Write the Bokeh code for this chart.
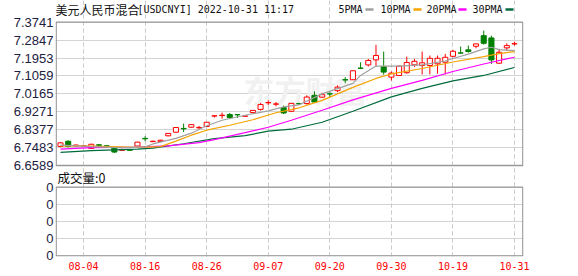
from bokeh.plotting import figure
from bokeh.models import Range1d, FixedTicker, CustomJSTickFormatter, ColumnDataSource, Grid
from bokeh.core.properties import value
from bokeh.embed import file_html
from bokeh.resources import INLINE

# ---------------- data ----------------
title_cn = "美元人民币混合"
title_code = "[USDCNYI] 2022-10-31 11:17"
volume_title = "成交量:0"

dates = ["08-01", "08-02", "08-03", "08-04", "08-05", "08-08", "08-09", "08-10", "08-11", "08-12",
         "08-15", "08-16", "08-17", "08-18", "08-19", "08-22", "08-23", "08-24", "08-25", "08-26",
         "08-29", "08-30", "08-31", "09-01", "09-02", "09-05", "09-06", "09-07", "09-08", "09-09",
         "09-13", "09-14", "09-15", "09-16", "09-19", "09-20", "09-21", "09-22", "09-23", "09-26",
         "09-27", "09-28", "09-29", "09-30", "10-10", "10-11", "10-12", "10-13", "10-14", "10-17",
         "10-18", "10-19", "10-20", "10-21", "10-24", "10-25", "10-26", "10-27", "10-28", "10-31"]

opens = [6.7541, 6.7800, 6.7560, 6.7560, 6.7440, 6.7620, 6.7570, 6.7457, 6.7350, 6.7370,
         6.7560, 6.7940, 6.7780, 6.7790, 6.8070, 6.8250, 6.8440, 6.8500, 6.8470, 6.8534,
         6.9060, 6.9080, 6.9130, 6.9130, 6.9050, 6.9230, 6.9390, 6.9720, 6.9650, 6.9480,
         6.9295, 6.9680, 6.9680, 7.0090, 7.0000, 7.0170, 7.0323, 7.0870, 7.0870, 7.1450,
         7.1610, 7.1860, 7.1530, 7.1000, 7.1080, 7.1220, 7.1615, 7.1580, 7.1580, 7.1664,
         7.1744, 7.2040, 7.2210, 7.2360, 7.2540, 7.3070, 7.2956, 7.1694, 7.2460, 7.2658]
highs = [6.7760, 6.7850, 6.7630, 6.7590, 6.7670, 6.7660, 6.7590, 6.7490, 6.7380, 6.7390,
         6.7770, 6.8050, 6.7830, 6.7870, 6.8210, 6.8500, 6.8680, 6.8660, 6.8560, 6.8760,
         6.9070, 6.9230, 6.9210, 6.9130, 6.9070, 6.9360, 6.9710, 6.9840, 6.9760, 6.9580,
         6.9710, 6.9720, 7.0090, 7.0290, 7.0220, 7.0250, 7.0590, 7.1000, 7.1330, 7.1740,
         7.1910, 7.2610, 7.2275, 7.1280, 7.1580, 7.2027, 7.1910, 7.2275, 7.2077, 7.2077,
         7.2160, 7.2360, 7.2524, 7.2573, 7.2668, 7.3320, 7.3070, 7.2410, 7.2688, 7.2772]
lows = [6.7500, 6.7490, 6.7540, 6.7530, 6.7420, 6.7560, 6.7540, 6.7210, 6.7330, 6.7330,
        6.7550, 6.7800, 6.7760, 6.7770, 6.8050, 6.8240, 6.8260, 6.8480, 6.8400, 6.8520,
        6.8980, 6.8930, 6.8910, 6.8960, 6.9040, 6.9210, 6.9330, 6.9610, 6.9540, 6.9160,
        6.9280, 6.9630, 6.9630, 6.9710, 6.9960, 7.0005, 7.0250, 7.0700, 7.0860, 7.1420,
        7.1530, 7.1530, 7.1120, 7.0830, 7.1050, 7.1170, 7.1500, 7.1133, 7.1133, 7.1170,
        7.1133, 7.1990, 7.2160, 7.2226, 7.2440, 7.2623, 7.1664, 7.1664, 7.2325, 7.2573]
closes = [6.7720, 6.7540, 6.7610, 6.7570, 6.7650, 6.7600, 6.7560, 6.7260, 6.7370, 6.7350,
          6.7755, 6.7920, 6.7800, 6.7850, 6.8190, 6.8485, 6.8420, 6.8630, 6.8490, 6.8748,
          6.9070, 6.9100, 6.8980, 6.9120, 6.9060, 6.9340, 6.9630, 6.9730, 6.9660, 6.9210,
          6.9690, 6.9670, 7.0005, 6.9760, 7.0124, 7.0160, 7.0500, 7.0860, 7.1317, 7.1440,
          7.1830, 7.2080, 7.1250, 7.1200, 7.1545, 7.1730, 7.1790, 7.1714, 7.1940, 7.1940,
          7.1990, 7.2290, 7.2200, 7.2275, 7.2658, 7.2688, 7.1860, 7.2240, 7.2573, 7.2668]

ma_names = ["5PMA", "10PMA", "20PMA", "30PMA"]
# moving averages at selected candles (index, value)
ma5_idx = [0, 4, 8, 11, 12, 15, 17, 19, 21, 24, 27, 29, 31, 34, 38, 39, 41, 43, 44, 47, 50, 51, 53, 55, 56, 57, 59]
ma5_val = [6.7606, 6.7531, 6.7466, 6.7516, 6.7665, 6.7943, 6.8202, 6.8574, 6.8847, 6.9096, 6.9319, 6.9518,
           6.9617, 7.0164, 7.0686, 7.1083, 7.1555, 7.1545, 7.1545, 7.1615, 7.1803, 7.1928, 7.2151, 7.2410,
           7.2489, 7.2375, 7.2325]
ma10_idx = [0, 4, 10, 13, 15, 17, 19, 22, 25, 28, 31, 34, 38, 41, 43, 47, 51, 55, 57, 59]
ma10_val = [6.7571, 6.7556, 6.7496, 6.7531, 6.7804, 6.8102, 6.8351, 6.8599, 6.8872, 6.9220, 6.9469,
            6.9841, 7.0487, 7.0934, 7.1158, 7.1431, 7.1754, 7.2027, 7.2176, 7.2275]
ma20_idx = [0, 4, 10, 14, 18, 20, 24, 27, 30, 34, 38, 43, 47, 51, 55, 59]
ma20_val = [6.7407, 6.7481, 6.7506, 6.7566, 6.7729, 6.7879, 6.8227, 6.8500, 6.8847, 6.9344, 6.9866,
            7.0437, 7.0835, 7.1282, 7.1654, 7.1992]
ma30_idx = [0, 4, 10, 12, 16, 20, 24, 27, 30, 34, 38, 43, 47, 51, 55, 59]
ma30_val = [6.7243, 6.7327, 6.7407, 6.7456, 6.7675, 6.7933, 6.8082, 6.8301, 6.8400, 6.8748, 6.9294,
            7.0015, 7.0437, 7.0810, 7.1083, 7.1480]

y_ticks = [6.6589, 6.7483, 6.8377, 6.9271, 7.0165, 7.1059, 7.1953, 7.2847, 7.3741]
x_tick_labels = ["08-04", "08-16", "08-26", "09-07", "09-20", "09-30", "10-19", "10-31"]
vol_ticks = [0, 1, 2, 3, 4]

# ---------------- styles / layout ----------------
RED = "#ff0000"
GREEN = "#008000"
ma_colors = ["#a0a0a0", "#f5a300", "#ff00ff", "#006b3c"]
GRID = "#d4d4d4"
VGRID = "#cccccc"
BORDER = "#999999"
LABEL = "#1c2140"
TXT = "#111111"

W, H = 578, 276
FL, FR = 55, 523            # frame left / right (px)
FB_BORDER = 20              # bottom border holding the date labels
FRAME_H = H - FB_BORDER
PRICE_TOP_PX, PRICE_BOT_PX = 21.7, 165.0
VOL_TOP_PX, VOL_BOT_PX = 186.7, 255.3
FIRST_PX, LAST_PX = 60.0, 514.0

n = len(dates)
PX_PER_IDX = (LAST_PX - FIRST_PX) / (n - 1)
x_start = -(FIRST_PX - FL) / PX_PER_IDX
x_end = (n - 1) + (FR - LAST_PX) / PX_PER_IDX
PX_PER_Y = (PRICE_BOT_PX - PRICE_TOP_PX) / (y_ticks[-1] - y_ticks[0])
y_end = y_ticks[-1] + PRICE_TOP_PX / PX_PER_Y
y_start = y_end - FRAME_H / PX_PER_Y


def px2x(px):
    return x_start + (px - FL) / PX_PER_IDX


def py2y(py):
    return y_end - py / PX_PER_Y


vol_y = [py2y(VOL_BOT_PX - v * (VOL_BOT_PX - VOL_TOP_PX) / vol_ticks[-1]) for v in vol_ticks]
x_ticks = [dates.index(d) for d in x_tick_labels]

up = [c >= o for o, c in zip(opens, closes)]
src = ColumnDataSource(dict(
    x=list(range(n)), o=opens, h=highs, l=lows, c=closes,
    top=[max(o, c) for o, c in zip(opens, closes)],
    bottom=[min(o, c) for o, c in zip(opens, closes)],
    color=[RED if u else GREEN for u in up],
    fill=["#ffffff" if u else GREEN for u in up],
))

p = figure(width=W, height=H, x_range=Range1d(x_start, x_end), y_range=Range1d(y_start, y_end),
           toolbar_location=None, output_backend="svg",
           min_border_left=FL, min_border_right=W - FR, min_border_top=0, min_border_bottom=FB_BORDER)
p.outline_line_color = None
p.background_fill_color = "#ffffff"

# axes
p.yaxis.ticker = FixedTicker(ticks=y_ticks + vol_y)
p.yaxis.formatter = CustomJSTickFormatter(args=dict(cut=(y_ticks[0] + vol_y[-1]) / 2),
                                          code="return tick < cut ? '0' : tick.toFixed(4);")
p.yaxis.axis_line_color = None
p.yaxis.major_tick_line_color = None
p.yaxis.minor_tick_line_color = None
p.yaxis.major_tick_out = 0
p.yaxis.major_tick_in = 0
p.yaxis.major_label_standoff = 2
p.yaxis.major_label_text_font = "Liberation Sans"
p.yaxis.major_label_text_font_size = "13px"
p.yaxis.major_label_text_color = LABEL

p.xaxis.ticker = FixedTicker(ticks=x_ticks)
p.xaxis.major_label_overrides = {t: lab for t, lab in zip(x_ticks, x_tick_labels)}
p.xaxis.axis_line_color = None
p.xaxis.major_tick_line_color = None
p.xaxis.minor_tick_line_color = None
p.xaxis.major_tick_out = 0
p.xaxis.major_tick_in = 0
p.xaxis.major_label_standoff = 5
p.xaxis.major_label_text_font = "DejaVu Sans Mono"
p.xaxis.major_label_text_font_size = "10px"
p.xaxis.major_label_text_color = RED

# grids
p.ygrid.ticker = FixedTicker(ticks=y_ticks + vol_y)
p.ygrid.grid_line_color = GRID
p.xgrid.visible = False
p.add_layout(Grid(dimension=0, ticker=FixedTicker(ticks=x_ticks), grid_line_color=VGRID,
                  grid_line_dash="4 3", bounds=(y_ticks[0], y_ticks[-1])))
p.add_layout(Grid(dimension=0, ticker=FixedTicker(ticks=x_ticks), grid_line_color=VGRID,
                  grid_line_dash="4 3", bounds=(vol_y[0], vol_y[-1])))

# watermark
p.text(x=[px2x(243)], y=[py2y(89)], text=["东方财富"], text_font=value("Noto Sans CJK SC"),
       text_font_size="31px", text_font_style="bold", text_color="#f1f1f1", text_baseline="middle")

# panel borders
p.quad(left=[px2x(55.7)] * 2, right=[px2x(522.3)] * 2, bottom=[y_ticks[0], vol_y[0]],
       top=[y_ticks[-1], vol_y[-1]], fill_color=None, line_color=BORDER, line_width=1.3)

# candles
p.segment(x0="x", y0="l", x1="x", y1="h", line_color="color", line_width=1, source=src)
p.vbar(x="x", width=0.66, top="top", bottom="bottom", fill_color="fill", line_color="color",
       line_width=1, source=src)

# moving averages
for idx, vals, col in [(ma30_idx, ma30_val, ma_colors[3]), (ma20_idx, ma20_val, ma_colors[2]),
                       (ma10_idx, ma10_val, ma_colors[1]), (ma5_idx, ma5_val, ma_colors[0])]:
    p.line(idx, vals, line_color=col, line_width=1.2)

# header: title + legend
hy = py2y(9)
p.text(x=[px2x(55)], y=[hy], text=[title_cn], text_font=value("Noto Sans CJK SC"),
       text_font_size="12px", text_color=TXT, text_baseline="middle", text_align="left")
p.text(x=[px2x(137)], y=[hy], text=[title_code], text_font=value("DejaVu Sans Mono"),
       text_font_size="10px", text_color=TXT, text_baseline="middle", text_align="left")
leg_text_px = [338, 380, 426, 472]
leg_line_px = [365, 413, 458, 505]
p.text(x=[px2x(v) for v in leg_text_px], y=[hy] * 4, text=ma_names, text_font=value("DejaVu Sans Mono"),
       text_font_size="10px", text_color=TXT, text_baseline="middle", text_align="left")
p.segment(x0=[px2x(v) for v in leg_line_px], x1=[px2x(v + 8) for v in leg_line_px],
          y0=[hy] * 4, y1=[hy] * 4, line_color=ma_colors, line_width=2.5)

# volume caption
p.text(x=[px2x(57)], y=[py2y(177)], text=[volume_title], text_font=value("Noto Sans CJK SC"),
       text_font_size="12.5px", text_color=TXT, text_baseline="middle", text_align="left")

open("out.html", "w").write(file_html(p, INLINE))
